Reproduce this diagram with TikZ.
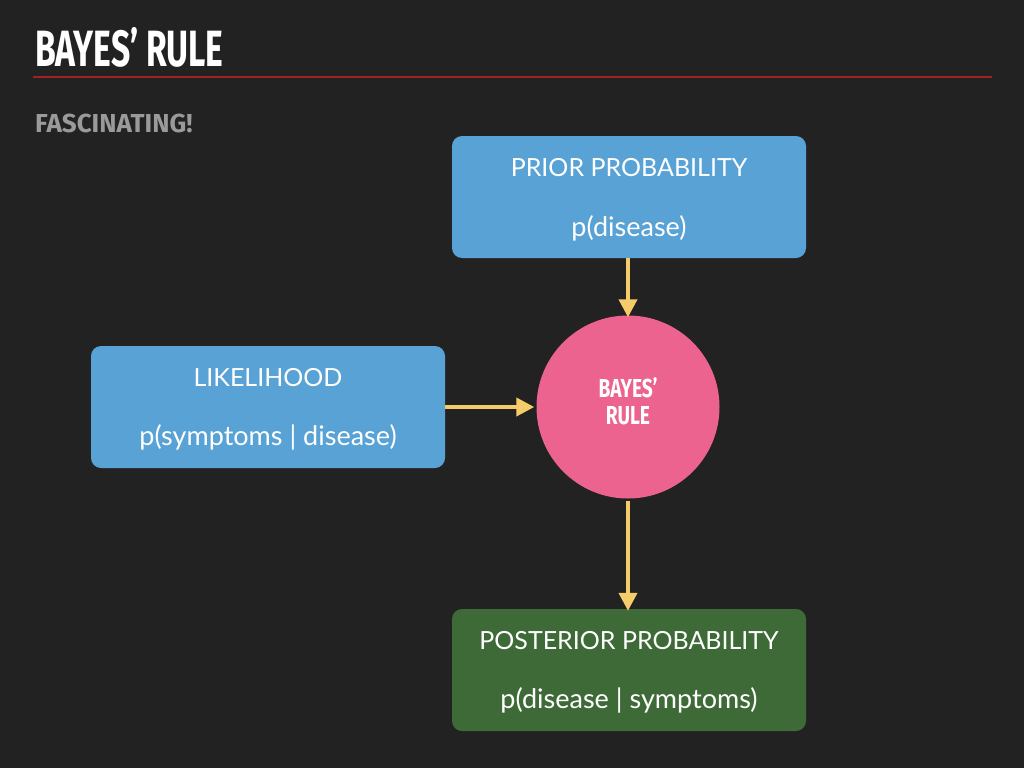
\documentclass[tikz,border=0pt]{standalone}
\usepackage{fontspec}
\setmainfont{Lato}
\newfontfamily\condfont{Fira Sans}
\newfontfamily\subfont{Fira Sans}
\usetikzlibrary{arrows.meta,positioning}
\definecolor{bgdark}{HTML}{222222}
\definecolor{rulered}{HTML}{A02323}
\definecolor{boxblue}{HTML}{58A2D6}
\definecolor{boxgreen}{HTML}{3E6A37}
\definecolor{circpink}{HTML}{EC638F}
\definecolor{arrowyellow}{HTML}{F6CB69}
\definecolor{subgray}{HTML}{9A9A9A}
\newcommand{\narrow}[2][0.66]{\scalebox{#1}[1]{#2}}

\begin{document}
\begin{tikzpicture}[x=1pt,y=-1pt,
  block/.style={rounded corners=10pt,fill=boxblue,minimum width=354pt,minimum height=122pt,inner sep=0pt},
  txt/.style={font=\fontsize{25}{30}\selectfont,text=white},
  formula/.style={font=\fontsize{27}{30}\selectfont,text=white},
  arr/.style={-{Triangle[length=18pt,width=18pt]},draw=arrowyellow,line width=4pt}
]
\fill[bgdark] (0,0) rectangle (1024,768);
\useasboundingbox (0,0) rectangle (1024,768);

% heading
\node[anchor=south west,inner sep=0pt,text=white,font=\condfont\bfseries\fontsize{51}{54}\selectfont] (title) at (35,68) {\narrow{BAYES’ RULE}};
\draw[rulered,line width=1.6pt] (33,77) -- (992,77);
\node[anchor=south west,inner sep=0pt,text=subgray,font=\subfont\bfseries\fontsize{26}{28}\selectfont] (sub) at (35,133) {FASCINATING!};

% boxes
\node[block] (prior) at (629,197) {};
\node[txt] (priortop) at (629,168) {PRIOR PROBABILITY};
\node[formula] (priorbot) at (629,228) {p(disease)};

\node[block] (lik) at (268,407) {};
\node[txt] (liktop) at (268,378) {LIKELIHOOD};
\node[formula] (likbot) at (268,437) {p(symptoms | disease)};

\node[block,fill=boxgreen] (post) at (629,670) {};
\node[txt] (posttop) at (629,641) {POSTERIOR PROBABILITY};
\node[formula] (postbot) at (629,700) {p(disease | symptoms)};

\node[circle,fill=circpink,minimum size=183pt,inner sep=0pt,text=white] (bayes) at (628,407) {};
\node[align=center,text=white,font=\condfont\bfseries\fontsize{26}{27}\selectfont] (bayestxt) at (628,401) {\narrow[0.74]{BAYES’}\\\narrow[0.74]{RULE}};

% connectors
\draw[arr] (prior.south -| bayes) -- ([yshift=-2pt]bayes.north);
\draw[arr] (lik.east) -- ([xshift=-2pt]bayes.west);
\draw[arr] ([yshift=-2pt]bayes.south) -- ([yshift=-2pt]bayes.south |- post.north);
\end{tikzpicture}
\end{document}
